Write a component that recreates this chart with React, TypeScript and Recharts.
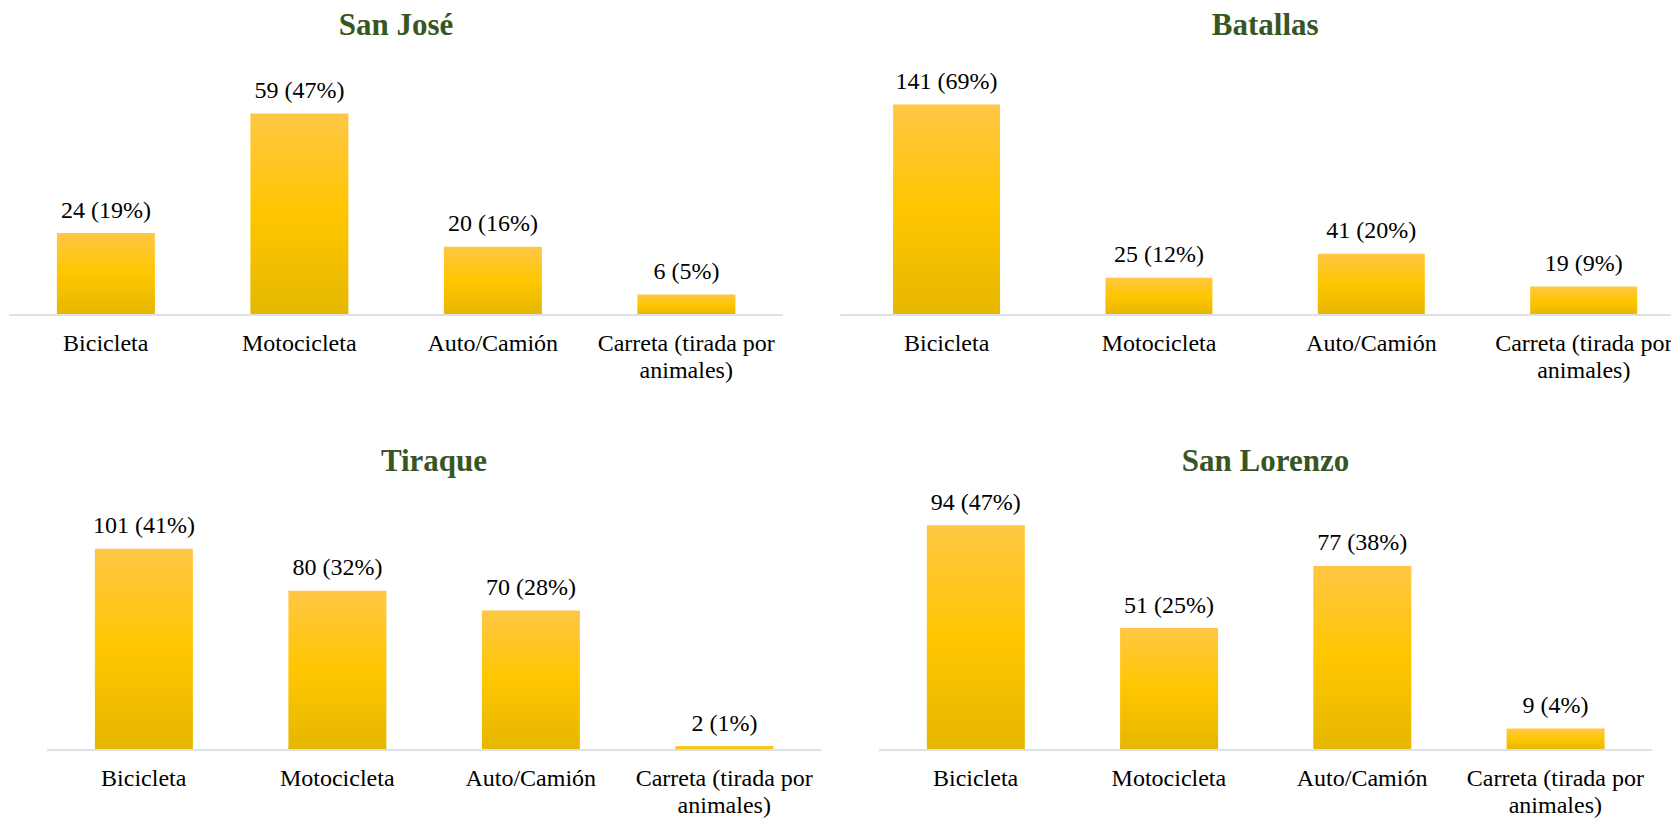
import React from "react";
import { BarChart, Bar, XAxis, YAxis, LabelList } from "recharts";

// ---- data ----
const categories = ["Bicicleta", "Motocicleta", "Auto/Camión", "Carreta (tirada por animales)"];
const tickLabelLines = [["Bicicleta"], ["Motocicleta"], ["Auto/Camión"], ["Carreta (tirada por", "animales)"]];

const panelTitles = ["San José", "Batallas", "Tiraque", "San Lorenzo"];

const sanJoseCounts = [24, 59, 20, 6];
const sanJosePct = [19, 47, 16, 5];
const batallasCounts = [141, 25, 41, 19];
const batallasPct = [69, 12, 20, 9];
const tiraqueCounts = [101, 80, 70, 2];
const tiraquePct = [41, 32, 28, 1];
const sanLorenzoCounts = [94, 51, 77, 9];
const sanLorenzoPct = [47, 25, 38, 4];

const yMax = [70, 160, 120, 100];

// ---- layout ----
const FONT = '"Liberation Serif", "Times New Roman", serif';
const layouts = [
  { left: 0, top: 0, width: 835, height: 410, margin: { top: 76, left: 9, right: 52, bottom: 35 }, titleY: 35 },
  { left: 835, top: 0, width: 870, height: 410, margin: { top: 76, left: 5.5, right: 15, bottom: 35 }, titleY: 35 },
  { left: 0, top: 410, width: 835, height: 409, margin: { top: 101, left: 47, right: 14, bottom: 9 }, titleY: 471 },
  { left: 835, top: 410, width: 836, height: 409, margin: { top: 101, left: 44, right: 19, bottom: 9 }, titleY: 471 },
];

const seriesCounts = [sanJoseCounts, batallasCounts, tiraqueCounts, sanLorenzoCounts];
const seriesPct = [sanJosePct, batallasPct, tiraquePct, sanLorenzoPct];

const CatTick = (props: any) => {
  const { x, y, payload } = props;
  const idx = categories.indexOf(payload.value);
  const lines = idx >= 0 ? tickLabelLines[idx] : [String(payload.value)];
  return (
    <text x={x} y={y} textAnchor="middle" fill="#000" fontSize={24} fontFamily={FONT}>
      {lines.map((ln, i) => (
        <tspan key={i} x={x} y={y + 36 + i * 26.5}>
          {ln}
        </tspan>
      ))}
    </text>
  );
};

function Panel({ i }: { i: number }) {
  const L = layouts[i];
  const data = categories.map((c, k) => ({
    name: c,
    value: seriesCounts[i][k],
    label: `${seriesCounts[i][k]} (${seriesPct[i][k]}%)`,
  }));
  const gid = `gold-grad-${i}`;
  return (
    <div style={{ position: "absolute", left: L.left, top: L.top, width: L.width, height: L.height }}>
      <BarChart width={L.width} height={L.height} data={data} margin={L.margin} barCategoryGap="24.75%">
        <defs>
          <linearGradient id={gid} x1="0" y1="0" x2="0" y2="1">
            <stop offset="0%" stopColor="#FFC745" />
            <stop offset="50%" stopColor="#FFC600" />
            <stop offset="100%" stopColor="#E5B700" />
          </linearGradient>
        </defs>
        <XAxis
          dataKey="name"
          height={60}
          axisLine={{ stroke: "#DCE1E8", strokeWidth: 2 }}
          tickLine={false}
          tickSize={0}
          tickMargin={0}
          interval={0}
          tick={<CatTick />}
        />
        <YAxis hide domain={[0, yMax[i]]} allowDataOverflow />
        <Bar dataKey="value" fill={`url(#${gid})`} isAnimationActive={false}>
          <LabelList dataKey="label" position="top" offset={15.5} fill="#000" fontSize={24} fontFamily={FONT} />
        </Bar>
      </BarChart>
    </div>
  );
}

export default function App() {
  return (
    <div
      style={{
        position: "absolute",
        left: 0,
        top: 0,
        width: 1671,
        height: 819,
        overflow: "hidden",
        background: "#fff",
      }}
    >
      {layouts.map((_, i) => (
        <Panel key={i} i={i} />
      ))}
      <svg
        width={1671}
        height={819}
        style={{ position: "absolute", left: 0, top: 0, pointerEvents: "none" }}
      >
        {layouts.map((L, i) => {
          const plotW = L.width - L.margin.left - L.margin.right;
          const cx = L.left + L.margin.left + plotW / 2;
          return (
            <text
              key={i}
              x={cx}
              y={L.titleY}
              textAnchor="middle"
              fill="#375623"
              fontSize={31}
              fontWeight="bold"
              fontFamily={FONT}
            >
              {panelTitles[i]}
            </text>
          );
        })}
      </svg>
    </div>
  );
}
